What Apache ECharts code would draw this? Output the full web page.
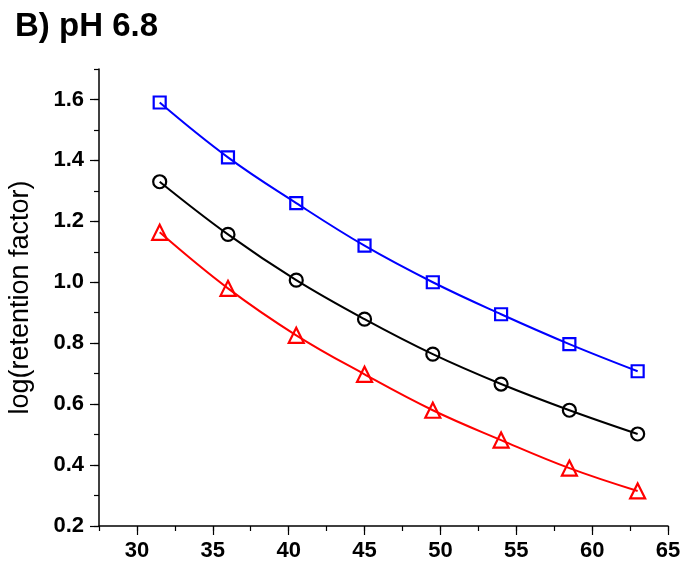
<!DOCTYPE html>
<html>
<head>
<meta charset="utf-8">
<script src="https://cdn.jsdelivr.net/npm/echarts@6/dist/echarts.min.js"></script>
<style>
  html, body { margin: 0; padding: 0; background: #fff; }
  #chart { width: 680px; height: 564px; }
</style>
</head>
<body>
<div id="chart"></div>
<script>
var temps = [31.5, 36, 40.5, 45, 49.5, 54, 58.5, 63];
var blueSquares = [1.59, 1.41, 1.26, 1.12, 1.00, 0.895, 0.797, 0.708];
var blackCircles = [1.33, 1.157, 1.007, 0.879, 0.764, 0.666, 0.58, 0.502];
var redTriangles = [1.164, 0.98, 0.826, 0.698, 0.58, 0.482, 0.39, 0.315];
var xTicks = [30, 35, 40, 45, 50, 55, 60, 65];
var yTicks = [0.2, 0.4, 0.6, 0.8, 1.0, 1.2, 1.4, 1.6];

var font = 'Liberation Sans, Arial, sans-serif';

function pairs(ys) {
    return temps.map(function (x, i) { return [x, ys[i]]; });
}

function makeSeries(ys, color, symbol, size) {
    return {
        type: 'line',
        data: pairs(ys),
        smooth: 0.4,
        symbol: symbol,
        symbolSize: size,
        lineStyle: { color: color, width: 2 },
        itemStyle: { color: 'rgba(255,255,255,0)', borderColor: color, borderWidth: 2.2 },
        emphasis: { disabled: true },
        z: 3
    };
}

try {
    var chart = echarts.init(document.getElementById('chart'));
    var option = {
        animation: false,
        title: {
            text: 'B) pH 6.8',
            left: 10, top: 5,
            textStyle: { fontFamily: font, fontSize: 33, fontWeight: 'bold', color: '#000' }
        },
        grid: { left: 99, right: 12, top: 69, bottom: 38, outerBoundsMode: 'none', containLabel: false },
        xAxis: [
            {
                type: 'value', min: 27.5, max: 65, interval: 2.5,
                axisLine: { lineStyle: { color: '#000', width: 1.5 } },
                axisTick: { length: 5, lineStyle: { color: '#000', width: 1.2 } },
                axisLabel: { show: false },
                splitLine: { show: false }
            },
            {
                type: 'value', min: 27.5, max: 65, position: 'bottom',
                axisLine: { show: false },
                axisTick: { customValues: xTicks, length: 9, lineStyle: { color: '#000', width: 1.2 } },
                axisLabel: {
                    customValues: xTicks, margin: 14,
                    fontFamily: font, fontSize: 22, fontWeight: 'bold', color: '#000'
                },
                splitLine: { show: false }
            }
        ],
        yAxis: [
            {
                type: 'value', min: 0.2, max: 1.7, interval: 0.1,
                axisLine: { show: true, lineStyle: { color: '#000', width: 1.5 } },
                axisTick: { show: true, length: 5, lineStyle: { color: '#000', width: 1.2 } },
                axisLabel: { show: false },
                splitLine: { show: false },
                name: 'log(retention factor)',
                nameLocation: 'middle', nameRotate: 90, nameGap: 65,
                nameTextStyle: { fontFamily: font, fontSize: 27, color: '#000' }
            },
            {
                type: 'value', min: 0.2, max: 1.7, position: 'left',
                axisLine: { show: false },
                axisTick: { show: true, customValues: yTicks, length: 9, lineStyle: { color: '#000', width: 1.2 } },
                axisLabel: {
                    customValues: yTicks, margin: 15,
                    formatter: function (v) { return v.toFixed(1); },
                    fontFamily: font, fontSize: 22, fontWeight: 'bold', color: '#000'
                },
                splitLine: { show: false }
            }
        ],
        series: [
            makeSeries(blueSquares, '#0000ff', 'rect', 12),
            makeSeries(blackCircles, '#000000', 'circle', 13),
            makeSeries(redTriangles, '#ff0000', 'triangle', 15)
        ]
    };
    chart.setOption(option);
} catch (error) {
    console.error('Failed to draw chart');
    console.error(error);
}
</script>
</body>
</html>
